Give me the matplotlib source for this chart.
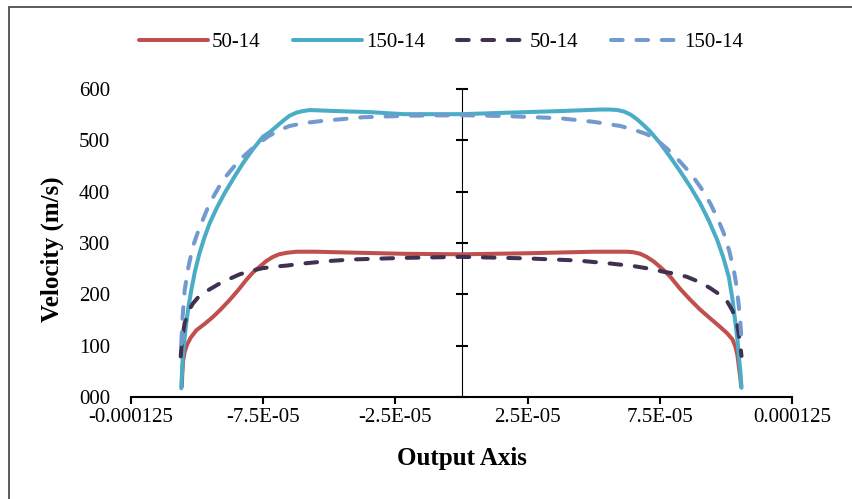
import matplotlib
matplotlib.use("Agg")
import matplotlib.pyplot as plt
from matplotlib.patches import Rectangle

plt.rcParams["font.family"] = ["Liberation Serif", "DejaVu Serif"]

# Velocity profiles across the output axis (x in units of 1e-5 m, velocity in m/s)
x_50_solid = [-10.58, -10.56, -10.53, -10.47, -10.38, -10.25, -10.03, -9.70, -9.40, -9.10,
              -8.77, -8.45, -8.14, -7.88, -7.63, -7.38, -7.13, -6.90, -6.60, -6.24,
              -5.50, -4.73, -2.20, 0.0, 2.47, 5.00, 6.00, 6.26, 6.50, 6.76,
              7.00, 7.27, 7.52, 7.75, 7.90, 8.28, 8.66, 9.03, 9.41, 9.75,
              10.05, 10.25, 10.36, 10.44, 10.49, 10.55, 10.58]
v_50_solid = [20, 45, 70, 88, 102, 115, 130, 143, 156, 171,
              189, 208, 228, 243, 254, 265, 273, 278, 281, 283,
              283, 282, 279, 278, 280, 283, 283, 283, 282, 279,
              273, 264, 253, 242, 234, 210, 189, 170, 153, 138,
              124, 112, 98, 80, 59, 35, 20]

x_150_solid = [-10.60, -10.57, -10.54, -10.48, -10.41, -10.32, -10.22, -10.08, -9.91, -9.72,
               -9.53, -9.25, -8.96, -8.60, -8.27, -7.90, -7.51, -7.25, -7.00, -6.75,
               -6.50, -6.24, -6.00, -5.74, -4.73, -3.47, -2.20, 0.0, 2.47, 3.73,
               5.25, 5.60, 5.90, 6.15, 6.40, 6.64, 6.90, 7.14, 7.52, 7.90,
               8.28, 8.66, 9.03, 9.36, 9.67, 9.90, 10.11, 10.25, 10.36, 10.44,
               10.49, 10.55, 10.59]
v_150_solid = [17, 50, 79, 112, 144, 178, 208, 245, 280, 311,
               338, 369, 397, 428, 455, 482, 507, 516, 527, 538,
               548, 554, 557, 559, 557, 555, 551, 551, 555, 557,
               560, 560, 559, 556, 550, 541, 529, 517, 494, 467,
               439, 409, 377, 343, 306, 272, 234, 190, 144, 110,
               79, 48, 18]

x_50_dash = [-10.62, -10.57, -10.47, -10.33, -10.16, -9.98, -9.78, -9.45, -9.15, -8.78,
             -8.39, -7.95, -7.51, -7.05, -6.62, -5.99, -5.00, -4.10, -2.20, 0.0,
             2.47, 4.36, 5.63, 6.51, 7.10, 7.64, 8.10, 8.53, 9.00, 9.41,
             9.75, 10.05, 10.25, 10.42, 10.52, 10.59]
v_50_dash = [79, 112, 144, 167, 182, 193, 202, 212, 221, 230,
             239, 246, 251, 254, 256, 260, 265, 268, 271, 273,
             270, 266, 260, 255, 250, 244, 240, 234, 224, 212,
             200, 186, 168, 144, 112, 80]

x_150_dash = [-10.60, -10.55, -10.47, -10.33, -10.16, -10.00, -9.84, -9.53, -9.02, -8.39,
              -7.76, -7.30, -6.88, -6.50, -5.90, -5.24, -3.72, -1.95, 0.0, 1.84,
              3.73, 5.00, 6.00, 6.50, 7.01, 7.40, 7.77, 8.20, 8.66, 9.05,
              9.41, 9.70, 9.92, 10.13, 10.30, 10.42, 10.49, 10.55, 10.59]
v_150_dash = [103, 155, 208, 253, 293, 317, 338, 377, 423, 462,
              491, 508, 520, 528, 534, 538, 545, 548, 549, 547,
              543, 536, 528, 521, 512, 500, 484, 462, 436, 408,
              377, 346, 319, 284, 247, 210, 176, 143, 111]

labels = ["50-14", "150-14", "50-14", "150-14"]
x_ticks = [-0.000125, -0.000075, -0.000025, 0.000025, 0.000075, 0.000125]
x_tick_labels = ["-0.000125", "-7.5E-05", "-2.5E-05", "2.5E-05", "7.5E-05", "0.000125"]
y_ticks = [0, 100, 200, 300, 400, 500, 600]
y_tick_labels = ["000", "100", "200", "300", "400", "500", "600"]

W, H = 852, 499
fig = plt.figure(figsize=(W / 100, H / 100), dpi=100)
ax = fig.add_axes([131 / W, 1 - 397 / H, (792 - 131) / W, (397 - 89) / H])


def to_m(xs):
    return [v * 1e-5 for v in xs]


lw = 2.9
dash = (2.9, 3.4)
ax.plot(to_m(x_50_solid), v_50_solid, color="#C0504D", lw=lw, label=labels[0],
        solid_joinstyle="round", solid_capstyle="round")
ax.plot(to_m(x_150_solid), v_150_solid, color="#4BACC6", lw=lw, label=labels[1],
        solid_joinstyle="round", solid_capstyle="round")
ax.plot(to_m(x_50_dash), v_50_dash, color="#403152", lw=lw, label=labels[2],
        dashes=dash, dash_capstyle="round", dash_joinstyle="round")
ax.plot(to_m(x_150_dash), v_150_dash, color="#729ACF", lw=lw, label=labels[3],
        dashes=dash, dash_capstyle="round", dash_joinstyle="round")

ax.set_xlim(-0.000125, 0.000125)
ax.set_ylim(0, 600)

for s in ("top", "right", "left"):
    ax.spines[s].set_visible(False)
ax.spines["bottom"].set_linewidth(1.5)

ax.set_xticks(x_ticks)
ax.set_xticklabels(x_tick_labels)
ax.set_yticks(y_ticks)
ax.set_yticklabels(y_tick_labels)
ax.tick_params(axis="x", direction="out", length=5, width=1.5, pad=3, labelsize=15)
ax.tick_params(axis="y", length=0, pad=15, labelsize=15)

# central value axis with crossing tick marks
mid = ax.secondary_yaxis(0.5)
mid.spines["left"].set_linewidth(1.5)
mid.set_yticks(y_ticks)
mid.set_yticklabels([])
mid.tick_params(direction="inout", length=9, width=1.5, labelleft=False, labelright=False)

ax.set_xlabel("Output Axis", fontsize=18, fontweight="bold", labelpad=14)
ax.set_ylabel("Velocity (m/s)", fontsize=18, fontweight="bold")
ax.yaxis.set_label_coords(64 / W, 0.5, transform=fig.transFigure)

fig.legend(loc="center", bbox_to_anchor=(441 / W, 1 - 42 / H), ncol=4, frameon=False,
           fontsize=15, handlelength=3.3, handletextpad=0.2, columnspacing=1.55)

fig.patches.append(Rectangle((9 / W, -0.1), 1.2, 1 - 7 / H + 0.1, transform=fig.transFigure,
                             fill=False, lw=1.2, ec="#404040"))

fig.savefig("out.png", dpi=100)
